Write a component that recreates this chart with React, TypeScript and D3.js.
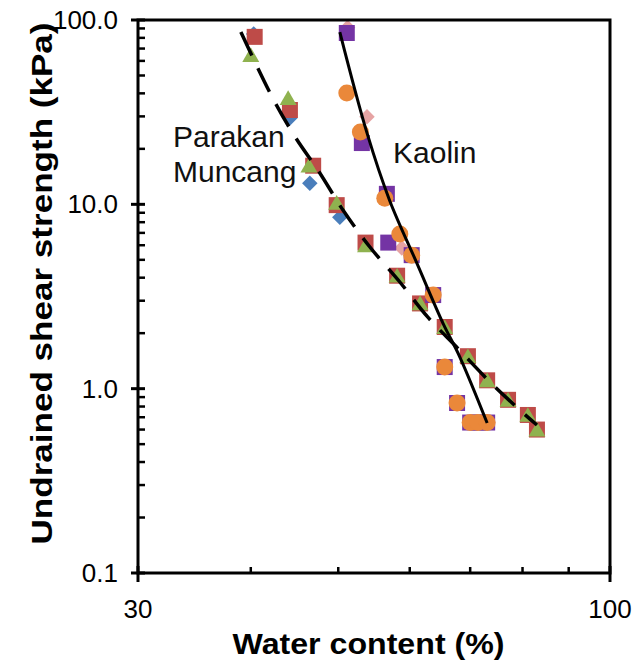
import * as d3 from "d3";

// Parakan / Muncang group (dashed trend)
const pmDiamondW = [40.3, 44.2, 46.5, 50.2];
const pmDiamondSu = [84, 29.4, 13.0, 8.5];

const pmSquareW = [40.4, 44.2, 46.9, 49.8, 53.6, 58.1, 61.6, 65.6, 69.6, 73.1, 77.1, 81.1, 83.0];
const pmSquareSu = [81, 32.5, 16.2, 9.9, 6.2, 4.1, 2.9, 2.16, 1.5, 1.11, 0.87, 0.72, 0.6];

const pmTriangleW = [40.0, 44.0, 46.4, 49.8, 53.6, 58.1, 61.6, 65.6, 69.6, 73.1, 77.1, 81.1, 83.0];
const pmTriangleSu = [64.6, 37.7, 16.2, 10.2, 6.0, 4.1, 2.9, 2.16, 1.5, 1.11, 0.87, 0.72, 0.6];

// Kaolin group (solid trend)
const kaoDiamondW = [51.2, 53.8, 58.8];
const kaoDiamondSu = [91, 29.9, 5.8];

const kaoSquareW = [51.1, 53.1, 56.6, 56.8, 60.3, 63.7, 65.6, 67.7, 70.0, 71.4, 73.1];
const kaoSquareSu = [85, 21.5, 11.4, 6.2, 5.3, 3.22, 1.31, 0.836, 0.655, 0.655, 0.655];

const kaoCircleW = [51.1, 52.9, 56.3, 58.5, 60.3, 63.7, 65.6, 67.7, 70.0, 71.4, 73.1];
const kaoCircleSu = [40.2, 24.7, 10.8, 6.9, 5.3, 3.22, 1.31, 0.836, 0.655, 0.655, 0.655];

// trend lines
const pmFitW = [39.0, 42.3, 44.8, 47.7, 50.6, 54.2, 58.5, 62.8, 67.8, 73.6, 79.9, 83.0];
const pmFitSu = [86, 37.7, 23.2, 14.8, 9.31, 5.87, 3.79, 2.45, 1.66, 1.09, 0.747, 0.635];

const kaoFitW = [50.2, 53.8, 57.0, 61.1, 65.3, 68.2, 73.1];
const kaoFitSu = [86, 24.4, 10.5, 4.8, 2.27, 1.48, 0.651];

const yMajor = [0.1, 1, 10, 100];
const xMajor = [30, 100];

type Pt = [number, number];
const zip = (a: number[], b: number[]): Pt[] => a.map((v, i) => [v, b[i]]);

const FONT = "'Liberation Sans', Arial, sans-serif";

const App = () => {
  const width = 644;
  const height = 664;

  const x = d3.scaleLog().domain([30, 100]).range([138, 610]);
  const y = d3.scaleLog().domain([0.1, 100]).range([573, 20]);

  const yMinor = y.ticks().filter((t) => !yMajor.some((m) => Math.abs(m - t) < 1e-9));
  const xMinor = x.ticks().filter((t) => !xMajor.includes(t));

  const line = d3
    .line<Pt>()
    .x((d) => x(d[0]))
    .y((d) => y(d[1]))
    .curve(d3.curveCatmullRom.alpha(0.5));

  const diamond = d3.symbol(d3.symbolSquare, 120)()!;
  const square = d3.symbol(d3.symbolSquare, 256)()!;
  const triangle = d3.symbol(d3.symbolTriangle, 125)()!;

  const drawPts = (pts: Pt[], key: string, fn: (p: Pt, i: number) => JSX.Element) =>
    pts.map((p, i) => <g key={key + i}>{fn(p, i)}</g>);

  return (
    <svg
      width={width}
      height={height}
      style={{ position: "absolute", left: 0, top: 0, background: "#fff" }}
      fontFamily={FONT}
    >
      <rect width={width} height={height} fill="#fff" />

      {/* markers: Parakan / Muncang */}
      {drawPts(zip(pmDiamondW, pmDiamondSu), "pd", (p) => (
        <path d={diamond} transform={`translate(${x(p[0])},${y(p[1])}) rotate(45)`} fill="#4a7ebb" />
      ))}
      {drawPts(zip(pmSquareW, pmSquareSu), "ps", (p) => (
        <path d={square} transform={`translate(${x(p[0])},${y(p[1])})`} fill="#be4b48" />
      ))}
      {drawPts(zip(pmTriangleW, pmTriangleSu), "pt", (p) => (
        <path d={triangle} transform={`translate(${x(p[0])},${y(p[1]) + 2})`} fill="#8fb24f" />
      ))}

      {/* markers: Kaolin */}
      {drawPts(zip(kaoDiamondW, kaoDiamondSu), "kd", (p) => (
        <path d={diamond} transform={`translate(${x(p[0])},${y(p[1])}) rotate(45)`} fill="#e6a3a3" />
      ))}
      {drawPts(zip(kaoSquareW, kaoSquareSu), "ks", (p) => (
        <path d={square} transform={`translate(${x(p[0])},${y(p[1])})`} fill="#7434a4" />
      ))}
      {drawPts(zip(kaoCircleW, kaoCircleSu), "kc", (p) => (
        <circle cx={x(p[0])} cy={y(p[1])} r={8.5} fill="#ea883a" />
      ))}

      {/* trend lines */}
      <path
        d={line(zip(pmFitW, pmFitSu)) ?? ""}
        fill="none"
        stroke="#000"
        strokeWidth={3.5}
        strokeDasharray="26,14"
      />
      <path d={line(zip(kaoFitW, kaoFitSu)) ?? ""} fill="none" stroke="#000" strokeWidth={3} />

      {/* frame */}
      <rect x={138} y={20} width={472} height={553} fill="none" stroke="#000" strokeWidth={3} />

      {/* y ticks */}
      {yMinor.map((t) => (
        <line key={"ym" + t} x1={138} x2={145} y1={y(t)} y2={y(t)} stroke="#000" strokeWidth={2.5} />
      ))}
      {yMajor.map((t) => (
        <g key={"yM" + t}>
          <line x1={131} x2={145} y1={y(t)} y2={y(t)} stroke="#000" strokeWidth={3} />
          <text x={118} y={y(t) + 9} fontSize={26} textAnchor="end" fill="#000">
            {d3.format(".1f")(t)}
          </text>
        </g>
      ))}

      {/* x ticks */}
      {xMinor.map((t) => (
        <line key={"xm" + t} x1={x(t)} x2={x(t)} y1={573} y2={567} stroke="#000" strokeWidth={2.5} />
      ))}
      {xMajor.map((t) => (
        <g key={"xM" + t}>
          <line x1={x(t)} x2={x(t)} y1={566} y2={582} stroke="#000" strokeWidth={3} />
          <text x={x(t)} y={618} fontSize={26} textAnchor="middle" fill="#000">
            {t}
          </text>
        </g>
      ))}

      {/* annotations */}
      <text x={173} y={147} fontSize={30} fill="#111">Parakan</text>
      <text x={173} y={182} fontSize={30} fill="#111">Muncang</text>
      <text x={393} y={163} fontSize={30} fill="#111">Kaolin</text>

      {/* axis titles */}
      <text
        x={368.5}
        y={654}
        fontSize={30}
        fontWeight="bold"
        textAnchor="middle"
        textLength={272}
        lengthAdjust="spacingAndGlyphs"
      >
        Water content (%)
      </text>
      <text
        transform="translate(52,283.5) rotate(-90)"
        fontSize={30}
        fontWeight="bold"
        textAnchor="middle"
        textLength={522}
        lengthAdjust="spacingAndGlyphs"
      >
        Undrained shear strength (kPa)
      </text>
    </svg>
  );
};

export default App;
